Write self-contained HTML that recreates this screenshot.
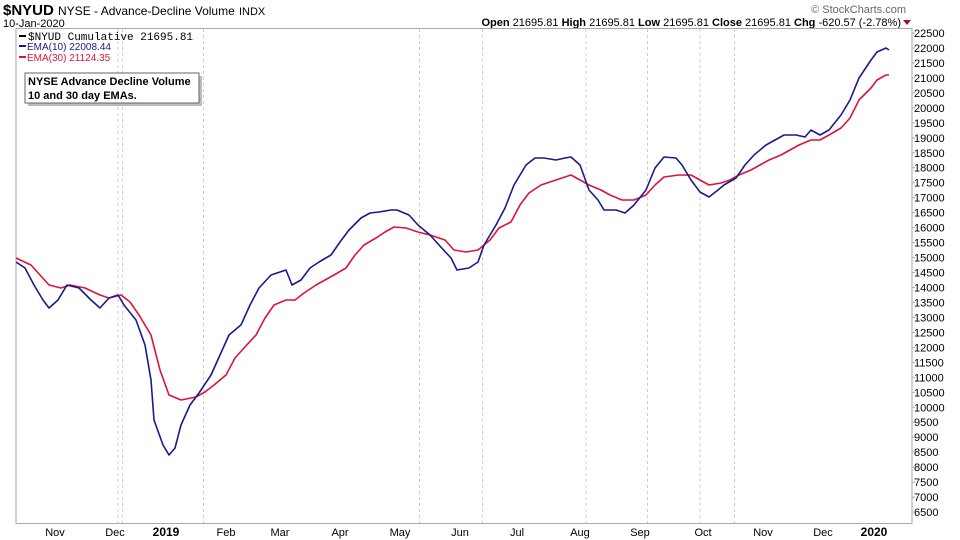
<!DOCTYPE html>
<html><head><meta charset="utf-8"><style>
body{margin:0;background:#fff;width:960px;height:540px;overflow:hidden;font-family:"Liberation Sans",sans-serif}
svg{position:absolute;left:0;top:0}
</style></head><body>
<svg id="c" width="960" height="540" xmlns="http://www.w3.org/2000/svg">
<text x="3" y="15" font-size="15" font-weight="bold">$NYUD <tspan font-weight="normal" font-size="12">NYSE - Advance-Decline Volume</tspan> <tspan font-weight="normal" font-size="11">INDX</tspan></text>
<text x="3" y="27" font-size="11">10-Jan-2020</text>
<text x="906" y="13" font-size="11" fill="#666" text-anchor="end">© StockCharts.com</text>
<text x="901" y="26" font-size="11" text-anchor="end"><tspan font-weight="bold">Open</tspan> 21695.81  <tspan font-weight="bold">High</tspan> 21695.81  <tspan font-weight="bold">Low</tspan> 21695.81  <tspan font-weight="bold">Close</tspan> 21695.81  <tspan font-weight="bold">Chg</tspan> -620.57 (-2.78%)</text>
<polygon points="903,20 911,20 907,25" fill="#a0102a"/>
<rect x="16" y="28.5" width="896" height="495" fill="none" stroke="#aaa"/>
<g id="grid"></g><g id="yt"></g><g id="xt"></g><g id="lines"></g>
<g>
<line x1="19" x2="26" y1="36" y2="36" stroke="#000" stroke-width="2"/>
<text x="28" y="40" font-size="11" font-family="Liberation Mono, monospace">$NYUD Cumulative 21695.81</text>
<line x1="19" x2="26" y1="46" y2="46" stroke="#1a1a8c" stroke-width="2"/>
<text x="27" y="50" font-size="10" fill="#1a1a8c">EMA(10) 22008.44</text>
<line x1="19" x2="26" y1="57" y2="57" stroke="#dc143c" stroke-width="2"/>
<text x="27" y="61" font-size="10" fill="#dc143c">EMA(30) 21124.35</text>
</g>
<g>
<rect x="28" y="76" width="174" height="30" fill="#bbb"/>
<rect x="25" y="73" width="174" height="30" fill="#fff" stroke="#666"/>
<text x="28" y="85" font-size="11" font-weight="bold">NYSE Advance Decline Volume</text>
<text x="28" y="99" font-size="11" font-weight="bold">10 and 30 day EMAs.</text>
</g>
</svg>
<script>
const blueDays=[0,3,6,9,11,14,17,21,25,28,31,34,36,40,43,45,46,49,51,53,55,58,61,65,68,71,75,78,81,85,88,90,92,95,98,101,105,108,111,115,118,121,125,127,131,134,138,141,145,147,151,154,156,160,163,166,170,173,176,180,183,185,188,191,194,196,200,203,206,210,213,216,220,222,225,228,231,234,236,240,243,246,250,253,256,260,263,265,268,271,275,278,281,285,287,290,291];
const blueVals=[14851,14651,14083,13582,13315,13582,14083,13983,13582,13315,13649,13749,13415,12914,12079,10910,9574,8739,8405,8639,9407,10075,10476,11077,11745,12413,12752,13415,13983,14417,14517,14584,14083,14250,14651,14851,15085,15519,15920,16321,16488,16521,16588,16588,16421,16087,15753,15419,14985,14584,14651,14851,15419,16087,16655,17423,18091,18325,18325,18258,18325,18358,18091,17256,16922,16588,16588,16488,16755,17256,17991,18358,18325,18091,17590,17189,17022,17256,17423,17657,18091,18425,18759,18926,19093,19093,19026,19260,19093,19260,19761,20262,20997,21598,21865,21999,21932];
const redDays=[0,5,8,11,15,18,23,28,31,35,38,41,45,48,51,55,60,63,66,70,73,76,80,83,86,90,93,96,100,103,106,110,113,116,120,123,126,130,134,138,143,146,150,154,158,161,165,168,171,175,180,185,188,191,195,198,202,206,210,213,216,221,225,228,231,235,238,241,245,248,251,255,258,261,265,268,271,275,278,281,285,287,290,291];
const redVals=[14985,14751,14417,14083,13983,14083,13983,13749,13649,13749,13515,13081,12413,11244,10409,10242,10342,10509,10743,11077,11645,11979,12413,12981,13415,13582,13582,13816,14083,14250,14417,14651,15085,15419,15653,15853,16020,15987,15853,15753,15586,15252,15185,15252,15586,15987,16187,16755,17156,17423,17590,17757,17590,17423,17256,17089,16922,16922,17089,17423,17690,17757,17757,17590,17423,17490,17590,17757,17924,18091,18258,18425,18592,18759,18926,18926,19093,19327,19661,20262,20663,20930,21097,21097];
const monthLabels=["Nov","Dec","2019","Feb","Mar","Apr","May","Jun","Jul","Aug","Sep","Oct","Nov","Dec","2020"];
const monthDays=[13,33,50,70,88,108,128,148,167,188,208,229,249,269,286];
const gridDays=[34,35.5,62.5,134.5,155.5,190,210.5,228,239.5];
const yTicks=[];for(let v=6500;v<=22500;v+=500)yTicks.push(v);
const X=d=>16+d*3, Y=v=>33+(22500-v)/500*14.97;
const NS="http://www.w3.org/2000/svg";
function mk(t,p,a){const e=document.createElementNS(NS,t);for(const k in a)e.setAttribute(k,a[k]);p.appendChild(e);return e;}
const grid=document.getElementById('grid');
gridDays.forEach(d=>{const l=mk('line',grid,{x1:X(d),x2:X(d),y1:29,y2:523,stroke:'#ccc','stroke-dasharray':'3,3'});

});
const yt=document.getElementById('yt');
yTicks.forEach(v=>{const t=mk('text',yt,{x:914,y:Y(v)+4,'font-size':11});t.textContent=v;


mk('line',yt,{x1:912,x2:915,y1:Y(v),y2:Y(v),stroke:'#aaa'});});
const xt=document.getElementById('xt');
monthLabels.forEach((m,i)=>{const b=/^\d/.test(m);const t=mk('text',xt,{x:X(monthDays[i]),y:536,'font-size':b?12:11,'font-weight':b?'bold':'normal','text-anchor':'middle'});t.textContent=m;

});
const lines=document.getElementById('lines');
function path(days,vals,col,name){const d=days.map((x,i)=>(i?'L':'M')+X(x).toFixed(1)+','+Y(vals[i]).toFixed(1)).join('');
const p=mk('path',lines,{d:d,fill:'none',stroke:col,'stroke-width':1.6,'stroke-linejoin':'round'});

}
path(redDays,redVals,'#dc143c','ema30-line');
path(blueDays,blueVals,'#1a1a8c','ema10-line');
</script>
</body></html>
